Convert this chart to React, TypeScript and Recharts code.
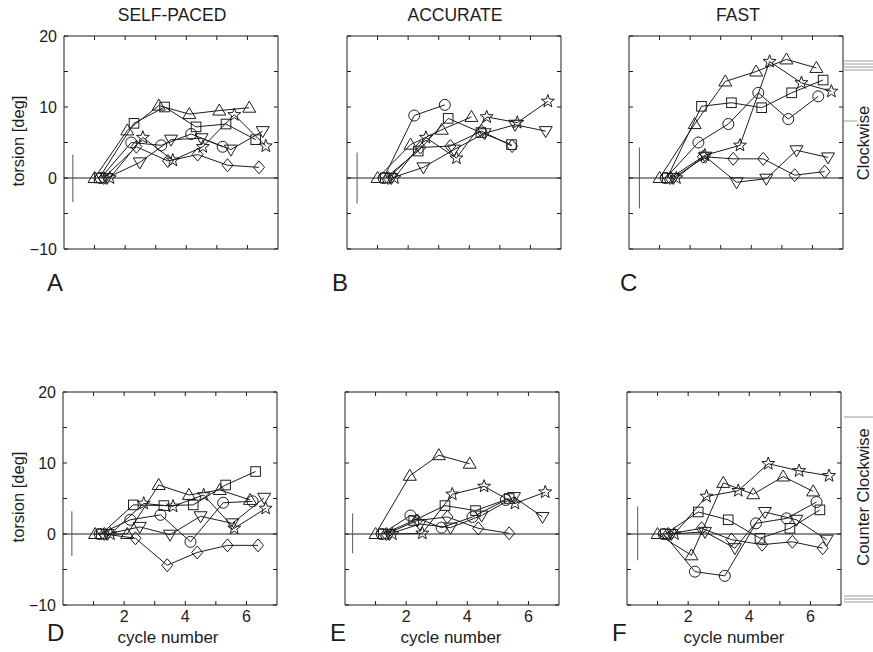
import React from 'react';
import { LineChart, Line, XAxis, YAxis, ReferenceLine } from 'recharts';

type Pair = [number, number];

// ---------- axis ticks / labels ----------
const xTicks = [1, 2, 3, 4, 5, 6];
const yTicks = [-10, -5, 0, 5, 10, 15, 20];
const xLabelValues = [2, 4, 6];
const yLabelValues = [-10, 0, 10, 20];
const columnTitles = ['SELF-PACED', 'ACCURATE', 'FAST'];
const panelLetters = ['A', 'B', 'C', 'D', 'E', 'F'];
const xAxisTitle = 'cycle number';
const yAxisTitle = 'torsion [deg]';
const sideTitles = ['Clockwise', 'Counter Clockwise'];

// ---------- Panel A (self-paced, clockwise) ----------
const A_triangle: Pair[] = [[1.0, 0], [2.07, 6.7], [3.1, 10.2], [4.1, 9.0], [5.08, 9.5], [6.06, 9.9]];
const A_circle: Pair[] = [[1.2, 0], [2.2, 5.0], [3.18, 4.6], [4.16, 6.2], [5.19, 4.4]];
const A_square: Pair[] = [[1.15, 0], [2.29, 7.7], [3.29, 10.0], [4.32, 7.2], [5.3, 7.6], [6.27, 5.4]];
const A_diamond: Pair[] = [[1.3, 0], [2.37, 4.4], [3.4, 2.4], [4.37, 3.3], [5.35, 1.8], [6.38, 1.5]];
const A_inverted: Pair[] = [[1.4, 0], [2.48, 2.2], [3.5, 5.4], [4.5, 5.6], [5.46, 4.0], [6.5, 6.6]];
const A_star: Pair[] = [[1.5, 0], [2.58, 5.7], [3.56, 2.5], [4.54, 4.4], [5.57, 8.9], [6.6, 4.5]];
const A_sd: Pair[] = [[0.29, 3.3], [0.29, -3.4]];

// ---------- Panel B (accurate, clockwise) ----------
const B_triangle: Pair[] = [[1.0, 0], [2.08, 4.7], [3.1, 6.8], [4.07, 8.6]];
const B_circle: Pair[] = [[1.2, 0], [2.2, 8.8], [3.2, 10.3]];
const B_square: Pair[] = [[1.25, 0], [2.33, 3.8], [3.31, 8.4], [4.38, 6.4], [5.38, 4.7]];
const B_diamond: Pair[] = [[1.35, 0], [2.4, 4.3], [3.38, 4.5], [4.4, 6.6], [5.4, 4.5]];
const B_inverted: Pair[] = [[1.45, 0], [2.5, 1.5], [3.5, 4.0], [4.5, 6.3], [5.5, 7.5], [6.5, 6.6]];
const B_star: Pair[] = [[1.55, 0], [2.58, 5.7], [3.58, 2.8], [4.57, 8.6], [5.57, 7.8], [6.57, 10.8]];
const B_sd: Pair[] = [[0.33, 3.6], [0.33, -3.6]];

// ---------- Panel C (fast, clockwise) ----------
const C_triangle: Pair[] = [[1.0, 0], [2.15, 7.6], [3.15, 13.6], [4.16, 15.0], [5.15, 16.7], [6.13, 15.5]];
const C_circle: Pair[] = [[1.2, 0], [2.27, 5.0], [3.25, 7.6], [4.23, 12.0], [5.21, 8.3], [6.19, 11.5]];
const C_square: Pair[] = [[1.25, 0], [2.37, 10.1], [3.35, 10.6], [4.34, 9.9], [5.32, 12.0], [6.35, 13.8]];
const C_diamond: Pair[] = [[1.35, 0], [2.42, 3.0], [3.41, 2.7], [4.39, 2.7], [5.42, 0.4], [6.4, 0.9]];
const C_inverted: Pair[] = [[1.45, 0], [2.5, 3.0], [3.52, -0.6], [4.49, -0.1], [5.48, 3.9], [6.51, 2.9]];
const C_star: Pair[] = [[1.55, 0], [2.48, 3.2], [3.63, 4.6], [4.6, 16.4], [5.64, 13.4], [6.62, 12.2]];
const C_sd: Pair[] = [[0.34, 4.3], [0.34, -4.3]];

// ---------- Panel D (self-paced, counter clockwise) ----------
const D_triangle: Pair[] = [[1.05, 0], [2.1, 0], [3.13, 6.9], [4.12, 5.5], [5.13, 6.2], [6.12, 4.8]];
const D_circle: Pair[] = [[1.2, 0], [2.2, 2.0], [3.19, 2.7], [4.17, -1.1], [5.24, 4.4], [6.2, 4.6]];
const D_square: Pair[] = [[1.25, 0], [2.3, 4.1], [3.3, 4.0], [4.26, 4.1], [5.32, 6.9], [6.3, 8.8]];
const D_diamond: Pair[] = [[1.35, 0], [2.37, -0.6], [3.41, -4.4], [4.39, -2.6], [5.38, -1.6], [6.38, -1.6]];
const D_inverted: Pair[] = [[1.45, 0], [2.51, 1.0], [3.5, -0.1], [4.5, 2.5], [5.54, 1.5], [6.58, 5.1]];
const D_star: Pair[] = [[1.55, 0], [2.64, 4.3], [3.6, 3.9], [4.6, 5.5], [5.6, 0.8], [6.63, 3.6]];
const D_sd: Pair[] = [[0.29, 3.2], [0.29, -3.1]];

// ---------- Panel E (accurate, counter clockwise) ----------
const E_triangle: Pair[] = [[1.0, 0], [2.12, 8.2], [3.07, 11.1], [4.08, 9.9]];
const E_circle: Pair[] = [[1.2, 0], [2.14, 2.6], [3.16, 0.9], [4.17, 2.4], [5.26, 4.8]];
const E_square: Pair[] = [[1.25, 0], [2.25, 1.9], [3.27, 4.0], [4.27, 3.3], [5.37, 5.0]];
const E_diamond: Pair[] = [[1.35, 0], [2.36, 1.9], [3.35, 2.4], [4.36, 0.8], [5.37, 0.1]];
const E_inverted: Pair[] = [[1.45, 0], [2.45, 1.4], [3.45, 0.9], [4.47, 2.6], [5.53, 5.2], [6.46, 2.4]];
const E_star: Pair[] = [[1.55, 0], [2.53, 0.1], [3.51, 5.6], [4.55, 6.7], [5.56, 4.3], [6.55, 5.9]];
const E_sd: Pair[] = [[0.25, 2.9], [0.25, -2.7]];

// ---------- Panel F (fast, counter clockwise) ----------
const F_triangle: Pair[] = [[1.0, 0], [2.11, -3.0], [3.15, 7.2], [4.13, 5.6], [5.11, 8.1], [6.09, 6.0]];
const F_circle: Pair[] = [[1.2, 0], [2.22, -5.3], [3.2, -5.9], [4.22, 1.5], [5.22, 2.2], [6.2, 4.5]];
const F_square: Pair[] = [[1.25, 0], [2.33, 3.1], [3.31, 2.0], [4.35, -0.6], [5.33, 0.8], [6.31, 3.4]];
const F_diamond: Pair[] = [[1.35, 0], [2.44, 0.8], [3.42, -0.8], [4.42, -1.5], [5.41, -1.1], [6.4, -2.0]];
const F_inverted: Pair[] = [[1.45, 0], [2.55, 0.3], [3.53, -2.0], [4.51, 3.1], [5.54, 2.0], [6.53, -0.8]];
const F_star: Pair[] = [[1.55, 0], [2.6, 5.3], [3.64, 6.1], [4.62, 9.9], [5.63, 8.9], [6.61, 8.2]];
const F_sd: Pair[] = [[0.35, 3.9], [0.35, -3.7]];

type Shape = 'triangle' | 'circle' | 'square' | 'diamond' | 'inverted' | 'star';
const SHAPES: Shape[] = ['triangle', 'circle', 'square', 'diamond', 'inverted', 'star'];

const FONT = '"Liberation Sans", Arial, Helvetica, sans-serif';
const INK = '#1c1c1c';

const BOX_W = 214;
const BOX_H = 213;
const M_LEFT = 50;
const M_TOP = 10;
const CHART_W = M_LEFT + BOX_W + 10;
const CHART_H = M_TOP + BOX_H + 30 + 10;

interface Panel {
  letter: string;
  left: number;
  top: number;
  showY: boolean;
  showX: boolean;
  series: Record<Shape, Pair[]>;
  sd: Pair[];
}

const panels: Panel[] = [
  { letter: panelLetters[0], left: 64, top: 36, showY: true, showX: false,
    series: { triangle: A_triangle, circle: A_circle, square: A_square, diamond: A_diamond, inverted: A_inverted, star: A_star }, sd: A_sd },
  { letter: panelLetters[1], left: 347, top: 36, showY: false, showX: false,
    series: { triangle: B_triangle, circle: B_circle, square: B_square, diamond: B_diamond, inverted: B_inverted, star: B_star }, sd: B_sd },
  { letter: panelLetters[2], left: 629, top: 36, showY: false, showX: false,
    series: { triangle: C_triangle, circle: C_circle, square: C_square, diamond: C_diamond, inverted: C_inverted, star: C_star }, sd: C_sd },
  { letter: panelLetters[3], left: 63, top: 392, showY: true, showX: true,
    series: { triangle: D_triangle, circle: D_circle, square: D_square, diamond: D_diamond, inverted: D_inverted, star: D_star }, sd: D_sd },
  { letter: panelLetters[4], left: 345, top: 392, showY: false, showX: true,
    series: { triangle: E_triangle, circle: E_circle, square: E_square, diamond: E_diamond, inverted: E_inverted, star: E_star }, sd: E_sd },
  { letter: panelLetters[5], left: 627, top: 392, showY: false, showX: true,
    series: { triangle: F_triangle, circle: F_circle, square: F_square, diamond: F_diamond, inverted: F_inverted, star: F_star }, sd: F_sd },
];

const toRows = (pairs: Pair[]) => pairs.map(([x, y]) => ({ x, y }));

function starPoints(cx: number, cy: number, ro: number, ri: number) {
  const pts: string[] = [];
  for (let i = 0; i < 10; i++) {
    const r = i % 2 === 0 ? ro : ri;
    const a = -Math.PI / 2 + (i * Math.PI) / 5;
    pts.push(`${cx + r * Math.cos(a)},${cy + r * Math.sin(a)}`);
  }
  return pts.join(' ');
}

function Marker({ cx, cy, shape }: { cx?: number; cy?: number; shape: Shape }) {
  if (cx == null || cy == null || isNaN(cx) || isNaN(cy)) return null;
  const common = { fill: 'none', stroke: INK, strokeWidth: 1 };
  switch (shape) {
    case 'triangle':
      return <polygon points={`${cx},${cy - 6.5} ${cx + 6.5},${cy + 4.5} ${cx - 6.5},${cy + 4.5}`} {...common} />;
    case 'inverted':
      return <polygon points={`${cx},${cy + 6.5} ${cx + 6.5},${cy - 4.5} ${cx - 6.5},${cy - 4.5}`} {...common} />;
    case 'square':
      return <rect x={cx - 4.8} y={cy - 4.8} width={9.6} height={9.6} {...common} />;
    case 'circle':
      return <circle cx={cx} cy={cy} r={5.5} {...common} />;
    case 'diamond':
      return <polygon points={`${cx},${cy - 6.5} ${cx + 5.5},${cy} ${cx},${cy + 6.5} ${cx - 5.5},${cy}`} {...common} />;
    case 'star':
      return <polygon points={starPoints(cx, cy, 6.8, 2.8)} {...common} />;
  }
  return null;
}

const fmtY = (show: boolean) => (v: number) =>
  show && yLabelValues.includes(v) ? (v < 0 ? `\u2212${Math.abs(v)}` : String(v)) : '';
const fmtX = (show: boolean) => (v: number) => (show && xLabelValues.includes(v) ? String(v) : '');

function PanelChart({ p }: { p: Panel }) {
  const tickStyle = { fontSize: 16, fill: INK, fontFamily: FONT };
  return (
    <div style={{ position: 'absolute', left: p.left - M_LEFT, top: p.top - M_TOP }}>
      <LineChart width={CHART_W} height={CHART_H} margin={{ top: M_TOP - 1, right: 9, bottom: 10, left: 0 }}>
        <XAxis
          xAxisId="b"
          dataKey="x"
          type="number"
          domain={[0, 7]}
          ticks={xTicks}
          interval={0}
          orientation="bottom"
          height={30}
          tickSize={-4}
          tickMargin={10}
          tickFormatter={fmtX(p.showX)}
          tick={tickStyle}
          stroke={INK}
          axisLine={{ stroke: INK }}
          tickLine={{ stroke: INK }}
          allowDataOverflow
        />
        <XAxis
          xAxisId="t"
          dataKey="x"
          type="number"
          domain={[0, 7]}
          ticks={xTicks}
          interval={0}
          orientation="top"
          height={1}
          tickSize={-4}
          tickFormatter={() => ''}
          stroke={INK}
          axisLine={{ stroke: INK }}
          tickLine={{ stroke: INK }}
          allowDataOverflow
        />
        <YAxis
          yAxisId="l"
          type="number"
          domain={[-10, 20]}
          ticks={yTicks}
          interval={0}
          orientation="left"
          width={M_LEFT}
          tickSize={-4}
          tickMargin={11}
          tickFormatter={fmtY(p.showY)}
          tick={tickStyle}
          stroke={INK}
          axisLine={{ stroke: INK }}
          tickLine={{ stroke: INK }}
          allowDataOverflow
        />
        <YAxis
          yAxisId="r"
          type="number"
          domain={[-10, 20]}
          ticks={yTicks}
          interval={0}
          orientation="right"
          width={1}
          tickSize={-4}
          tickFormatter={() => ''}
          stroke={INK}
          axisLine={{ stroke: INK }}
          tickLine={{ stroke: INK }}
          allowDataOverflow
        />
        <ReferenceLine xAxisId="b" yAxisId="l" y={0} stroke={INK} strokeWidth={1} />
        <Line
          xAxisId="t"
          yAxisId="r"
          data={toRows(p.sd)}
          dataKey="y"
          type="linear"
          stroke="none"
          dot={false}
          activeDot={false}
          isAnimationActive={false}
        />
        <Line
          xAxisId="b"
          yAxisId="l"
          data={toRows(p.sd)}
          dataKey="y"
          type="linear"
          stroke="#555"
          strokeWidth={1}
          dot={false}
          activeDot={false}
          isAnimationActive={false}
        />
        {SHAPES.map((shape) => (
          <Line
            key={shape}
            xAxisId="b"
            yAxisId="l"
            data={toRows(p.series[shape])}
            dataKey="y"
            type="linear"
            stroke={INK}
            strokeWidth={1}
            dot={(props: any) => <Marker key={`${shape}-${props.index}`} cx={props.cx} cy={props.cy} shape={shape} />}
            activeDot={false}
            isAnimationActive={false}
          />
        ))}
      </LineChart>
    </div>
  );
}

export default function App() {
  const colCenters = [172, 455, 738];
  const letterPos = [
    [47, 291], [332, 291], [620, 291],
    [47, 641], [330, 641], [612, 641],
  ];
  const xTitleCenters = [168, 451, 734];
  return (
    <div style={{ position: 'absolute', left: 0, top: 0, width: 873, height: 652, background: '#fff', fontFamily: FONT, overflow: 'hidden' }}>
      {panels.map((p) => (
        <PanelChart key={p.letter} p={p} />
      ))}
      <svg width={873} height={652} style={{ position: 'absolute', left: 0, top: 0, pointerEvents: 'none' }}>
        <g fontFamily={FONT} fill={INK}>
          {columnTitles.map((t, i) => (
            <text key={t} x={colCenters[i]} y={21} textAnchor="middle" fontSize={17.5}>{t}</text>
          ))}
          {panelLetters.map((l, i) => (
            <text key={l} x={letterPos[i][0]} y={letterPos[i][1]} fontSize={24}>{l}</text>
          ))}
          {xTitleCenters.map((cx, i) => (
            <text key={i} x={cx} y={643} textAnchor="middle" fontSize={17}>{xAxisTitle}</text>
          ))}
          <text x={0} y={0} transform="translate(24,141) rotate(-90)" textAnchor="middle" fontSize={16.5}>{yAxisTitle}</text>
          <text x={0} y={0} transform="translate(24,497) rotate(-90)" textAnchor="middle" fontSize={16.5}>{yAxisTitle}</text>
          <text x={0} y={0} transform="translate(869,143) rotate(-90)" textAnchor="middle" fontSize={16.5}>{sideTitles[0]}</text>
          <text x={0} y={0} transform="translate(869,497) rotate(-90)" textAnchor="middle" fontSize={16.5}>{sideTitles[1]}</text>
        </g>
        <g stroke="#9a9a9a" strokeWidth={1}>
          <line x1={844} y1={61} x2={873} y2={61} />
          <line x1={844} y1={64} x2={873} y2={64} />
          <line x1={844} y1={67} x2={873} y2={67} />
          <line x1={844} y1={70} x2={873} y2={70} />
          <line x1={844} y1={121} x2={857} y2={121} />
          <line x1={844} y1={417} x2={873} y2={417} />
          <line x1={844} y1={596} x2={873} y2={596} />
          <line x1={844} y1={599} x2={873} y2={599} />
          <line x1={844} y1={602} x2={873} y2={602} />
        </g>
      </svg>
    </div>
  );
}
